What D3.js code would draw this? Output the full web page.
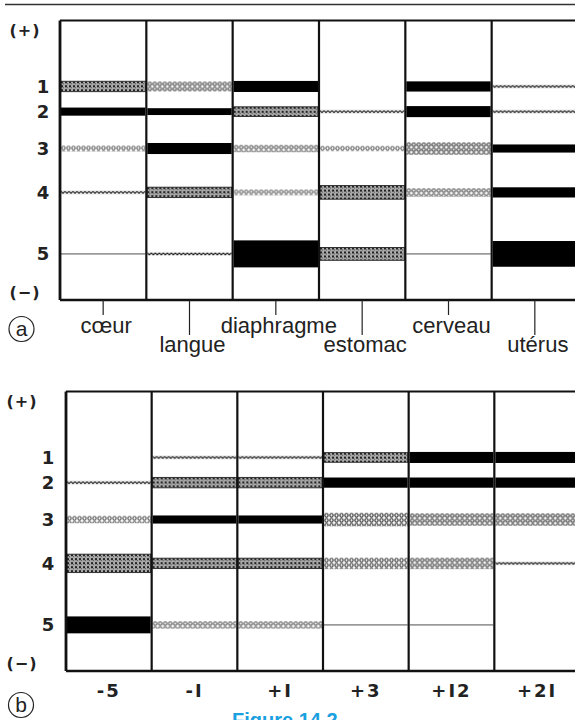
<!DOCTYPE html>
<html>
<head>
<meta charset="utf-8">
<script src="https://cdn.jsdelivr.net/npm/d3@7"></script>
<style>
  body { margin: 0; background: #fff; }
  svg { display: block; }
</style>
</head>
<body>
<svg id="fig" width="575" height="720"></svg>
<script>
// LDH isoenzymes 1..5 and their migration distance from the anode (+) to the cathode (-), in %
const isoformLabels = ["1", "2", "3", "4", "5"];
const isoformMobility = [23.6, 32.6, 45.8, 61.5, 83.5];
const poleLabels = ["(+)", "(−)"];
const poleMobility = [3.5, 97];

// Panel a: tissues, band intensity (0–100) for isoforms 1..5
const tissues = ["cœur", "langue", "diaphragme", "estomac", "cerveau", "utérus"];
const bandsCoeur      = [38, 55, 17, 10, 4];
const bandsLangue     = [25, 52, 62, 38, 12];
const bandsDiaphragme = [62, 37, 20, 17, 100];
const bandsEstomac    = [0, 10, 16, 42, 41];
const bandsCerveau    = [60, 62, 30, 22, 5];
const bandsUterus     = [10, 9, 55, 60, 97];

// Panel b: stages (days), band intensity (0–100) for isoforms 1..5
const stages = ["-5", "-I", "+I", "+3", "+I2", "+2I"];
const bandsM5  = [0, 10, 20, 48, 76];
const bandsM1  = [9, 38, 55, 38, 20];
const bandsP1  = [9, 38, 55, 38, 20];
const bandsP3  = [37, 60, 32, 28, 4];
const bandsP12 = [62, 60, 30, 28, 4];
const bandsP21 = [62, 60, 30, 10, 0];

const svg = d3.select("#fig");
const defs = svg.append("defs");

// fill patterns for the band styles
const hatch = defs.append("pattern").attr("id", "hatch")
  .attr("patternUnits", "userSpaceOnUse").attr("width", 4).attr("height", 4);
hatch.append("rect").attr("width", 4).attr("height", 4).attr("fill", "#a8a8a8");
hatch.append("rect").attr("width", 2).attr("height", 2).attr("fill", "#222");
hatch.append("rect").attr("x", 2).attr("y", 2).attr("width", 1).attr("height", 1).attr("fill", "#555");

const dots = defs.append("pattern").attr("id", "dots")
  .attr("patternUnits", "userSpaceOnUse").attr("width", 5).attr("height", 5);
dots.append("circle").attr("cx", 2.5).attr("cy", 2.5).attr("r", 1.7)
  .attr("fill", "none").attr("stroke", "#222").attr("stroke-width", 1.1);

const zig = defs.append("pattern").attr("id", "zig")
  .attr("patternUnits", "userSpaceOnUse").attr("width", 4).attr("height", 4);
zig.append("path").attr("d", "M0,1 L2,3 L4,1")
  .attr("fill", "none").attr("stroke", "#111").attr("stroke-width", 1.1);

// intensity -> band style and thickness
const styleOf = d3.scaleThreshold()
  .domain([1, 8, 15, 35, 50])
  .range(["none", "faint", "trace", "dot", "hatch", "solid"]);
const dotH = d3.scaleLinear().domain([15, 35]).range([5, 15]);
const dotOpacity = d3.scaleLinear().domain([15, 35]).range([0.7, 1]).clamp(true);
const hatchH = d3.scaleLinear().domain([35, 50]).range([8, 20]);
const solidH = d3.scaleLinear().domain([50, 100]).range([6, 27]);

function drawBand(g, v, x0, w, yc) {
  const s = styleOf(v);
  if (s === "none") return;
  let h;
  if (s === "faint") h = 1.5;
  else if (s === "trace") h = 4;
  else if (s === "dot") h = dotH(v);
  else if (s === "hatch") h = hatchH(v);
  else h = solidH(v);
  const b = g.append("g").attr("transform", `translate(${x0},${yc - h / 2})`);
  if (s === "faint") {
    b.append("rect").attr("width", w).attr("height", h).attr("fill", "#8a8a8a");
  } else if (s === "trace") {
    b.append("rect").attr("width", w).attr("height", h).attr("fill", "url(#zig)");
  } else if (s === "dot") {
    b.append("rect").attr("width", w).attr("height", h)
      .attr("fill", "url(#dots)").attr("opacity", dotOpacity(v));
  } else if (s === "hatch") {
    b.append("rect").attr("width", w).attr("height", h).attr("fill", "url(#hatch)");
    b.append("rect").attr("width", w).attr("height", h)
      .attr("fill", "none").attr("stroke", "#222").attr("stroke-width", 0.9);
  } else {
    b.append("rect").attr("width", w).attr("height", h).attr("fill", "#000");
  }
}

function drawPanel(cfg) {
  const g = svg.append("g");
  const x = d3.scaleBand().domain(cfg.categories).range([cfg.left, cfg.right]).padding(0);
  const y = d3.scaleLinear().domain([0, 100]).range([cfg.top, cfg.bottom]);

  // bands
  cfg.bands.forEach((vals, ci) => {
    const cat = cfg.categories[ci];
    vals.forEach((v, k) => {
      drawBand(g, v, x(cat) + 1, x.bandwidth() - 2, y(isoformMobility[k]));
    });
  });

  // frame: top, bottom, left edge and column dividers
  const frame = g.append("g").attr("stroke", "#111").attr("fill", "none");
  frame.append("line").attr("x1", cfg.left).attr("x2", 575)
    .attr("y1", cfg.top).attr("y2", cfg.top).attr("stroke-width", 2.2);
  frame.append("line").attr("x1", cfg.left).attr("x2", 575)
    .attr("y1", cfg.bottom).attr("y2", cfg.bottom).attr("stroke-width", 2.6);
  frame.selectAll("line.div").data(cfg.categories).join("line")
    .attr("class", "div")
    .attr("x1", d => x(d)).attr("x2", d => x(d))
    .attr("y1", cfg.top).attr("y2", cfg.bottom)
    .attr("stroke-width", (d, i) => i === 0 ? 2.8 : 2.2);

  // isoform labels on the left
  const lab = g.append("g")
    .attr("font-family", "'DejaVu Sans', sans-serif")
    .attr("font-weight", "bold").attr("fill", "#222").attr("text-anchor", "middle");
  lab.selectAll("text.iso").data(isoformLabels).join("text")
    .attr("class", "iso")
    .attr("x", cfg.isoX).attr("y", (d, i) => y(isoformMobility[i]) + 6.5)
    .attr("font-size", 18).text(d => d);
  lab.selectAll("text.pole").data(poleLabels).join("text")
    .attr("class", "pole")
    .attr("x", cfg.poleX).attr("y", (d, i) => y(poleMobility[i]) + 6)
    .attr("font-size", 16).attr("letter-spacing", 1).text(d => d);

  return { g, x, y };
}

// top rule
svg.append("line").attr("x1", 5).attr("x2", 575).attr("y1", 4.5).attr("y2", 4.5)
  .attr("stroke", "#333").attr("stroke-width", 1.5);

// ---- panel a
const pa = drawPanel({
  categories: tissues,
  bands: [bandsCoeur, bandsLangue, bandsDiaphragme, bandsEstomac, bandsCerveau, bandsUterus],
  left: 60, right: 578, top: 20.5, bottom: 300,
  isoX: 43, poleX: 25
});
const tickA = pa.g.append("g");
tissues.forEach((t, i) => {
  const cx = pa.x(t) + pa.x.bandwidth() / 2;
  const long = i % 2 === 1;
  tickA.append("line").attr("x1", cx).attr("x2", cx)
    .attr("y1", 300).attr("y2", long ? 335 : 315)
    .attr("stroke", "#222").attr("stroke-width", 1.2);
  tickA.append("text").attr("x", cx + 3).attr("y", long ? 352 : 333)
    .attr("text-anchor", "middle")
    .attr("font-family", "'Liberation Sans', Arial, sans-serif")
    .attr("font-size", 22).attr("fill", "#222").text(t);
});

// ---- panel b
const pb = drawPanel({
  categories: stages,
  bands: [bandsM5, bandsM1, bandsP1, bandsP3, bandsP12, bandsP21],
  left: 66, right: 580, top: 391.5, bottom: 671,
  isoX: 48, poleX: 22
});
pb.g.append("g").selectAll("text").data(stages).join("text")
  .attr("x", d => pb.x(d) + pb.x.bandwidth() / 2)
  .attr("y", 697)
  .attr("text-anchor", "middle")
  .attr("font-family", "'DejaVu Sans', sans-serif")
  .attr("font-weight", "bold").attr("font-size", 18).attr("fill", "#222")
  .attr("letter-spacing", 2)
  .text(d => d);

// circled panel letters
[["a", 21.5, 329], ["b", 21, 705]].forEach(([t, cx, cy]) => {
  svg.append("circle").attr("cx", cx).attr("cy", cy).attr("r", 12.5)
    .attr("fill", "none").attr("stroke", "#222").attr("stroke-width", 1.2);
  svg.append("text").attr("x", cx).attr("y", cy + 7).attr("text-anchor", "middle")
    .attr("font-family", "'Liberation Sans', Arial, sans-serif")
    .attr("font-size", 21).attr("fill", "#222").text(t);
});

// caption (runs off the bottom edge of the page)
svg.append("text").attr("x", 232).attr("y", 727)
  .attr("font-family", "'Liberation Sans', Arial, sans-serif")
  .attr("font-weight", "bold").attr("font-size", 20).attr("fill", "#1a9fe0")
  .text("Figure 14.2");
</script>
</body>
</html>
